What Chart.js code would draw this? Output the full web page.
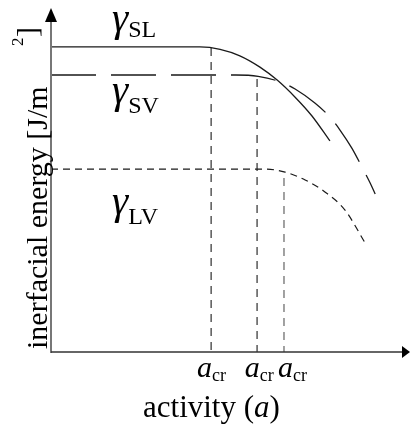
<!DOCTYPE html>
<html>
<head>
<meta charset="utf-8">
<script src="https://cdn.jsdelivr.net/npm/chart.js@4.4.0/dist/chart.umd.min.js"></script>
<style>
  body { margin: 0; background: #fff; }
  canvas { display: block; }
</style>
</head>
<body>
<canvas id="chart" width="410" height="432"></canvas>
<script>
// curves, arbitrary units 0..10 on both axes
const slX = [0, 4.15, 4.71, 5.26, 5.82, 6.30, 6.80, 7.27, 7.77];
const slY = [8.92, 8.92, 8.85, 8.66, 8.33, 7.95, 7.45, 6.90, 6.17];
const svX = [0, 5.15, 5.77, 6.41, 6.80, 7.35, 7.77, 8.05, 8.38, 8.69, 8.89, 9.03];
const svY = [8.10, 8.10, 8.06, 7.89, 7.69, 7.28, 6.87, 6.49, 5.96, 5.35, 4.94, 4.62];
const lvX = [0, 5.96, 6.52, 7.08, 7.63, 8.19, 8.75];
const lvY = [5.35, 5.35, 5.26, 5.03, 4.68, 4.15, 3.19];
// critical activities and where their guide lines stop
const acrX = [4.46, 5.74, 6.49];
const acrTop = [8.89, 7.98, 5.09];

const serif = '"Liberation Serif", "Times New Roman", serif';

function pts(xs, ys) {
  return xs.map((x, i) => ({ x: x, y: ys[i] }));
}

const datasets = [
  { data: pts(slX, slY), borderColor: '#1a1a1a', borderWidth: 1.3 },
  { data: pts(svX, svY), borderColor: '#1a1a1a', borderWidth: 1.3, borderDash: [45, 15] },
  { data: pts(lvX, lvY), borderColor: '#1a1a1a', borderWidth: 1.2, borderDash: [7, 5] }
];
acrX.forEach((x, i) => {
  datasets.push({
    data: [{ x: x, y: acrTop[i] }, { x: x, y: 0 }],
    borderColor: i == 2 ? '#555' : '#1a1a1a', borderWidth: 1.1, borderDash: [8, 6],
    cubicInterpolationMode: 'default', tension: 0
  });
});

// text that sits on the plot (data coords of the left edge / baseline)
const gammaLabels = [
  { sub: 'SL', x: 1.70, y: 9.39, dy: 6 },
  { sub: 'SV', x: 1.70, y: 7.28, dy: 10 },
  { sub: 'LV', x: 1.70, y: 4.04, dy: 10 }
];
const acrLabelX = [4.07, 5.40, 6.32];

const decor = {
  id: 'decor',
  afterDraw(chart) {
    const ctx = chart.ctx;
    const xs = chart.scales.x, ys = chart.scales.y;
    const x0 = xs.getPixelForValue(0), y0 = ys.getPixelForValue(0);
    const xEnd = xs.getPixelForValue(10), yEnd = ys.getPixelForValue(10);
    ctx.save();

    // y axis + arrow
    ctx.strokeStyle = '#777';
    ctx.lineWidth = 2;
    ctx.beginPath();
    ctx.moveTo(x0, y0 + 1);
    ctx.lineTo(x0, yEnd + 10);
    ctx.stroke();
    ctx.fillStyle = '#000';
    ctx.beginPath();
    ctx.moveTo(x0, yEnd - 2);
    ctx.lineTo(x0 - 6, yEnd + 12);
    ctx.lineTo(x0 + 6, yEnd + 12);
    ctx.closePath();
    ctx.fill();

    // x axis + arrow
    ctx.strokeStyle = '#333';
    ctx.lineWidth = 1.6;
    ctx.beginPath();
    ctx.moveTo(x0, y0);
    ctx.lineTo(xEnd - 5, y0);
    ctx.stroke();
    ctx.beginPath();
    ctx.moveTo(xEnd, y0);
    ctx.lineTo(xEnd - 8, y0 - 6);
    ctx.lineTo(xEnd - 8, y0 + 6);
    ctx.closePath();
    ctx.fill();

    ctx.fillStyle = '#000';
    ctx.textBaseline = 'alphabetic';
    ctx.textAlign = 'left';

    // gamma labels
    gammaLabels.forEach(l => {
      const px = xs.getPixelForValue(l.x), py = ys.getPixelForValue(l.y);
      ctx.font = 'italic 41px ' + serif;
      ctx.fillText('\u03B3', px, py);
      const w = ctx.measureText('\u03B3').width;
      ctx.font = '24px ' + serif;
      ctx.fillText(l.sub, px + w, py + l.dy);
    });

    // a_cr tick labels
    acrLabelX.forEach(v => {
      const px = xs.getPixelForValue(v);
      ctx.font = 'italic 30px ' + serif;
      ctx.fillText('a', px, y0 + 25);
      const w = ctx.measureText('a').width;
      ctx.font = '18px ' + serif;
      ctx.fillText('cr', px + w, y0 + 29);
    });

    // x title
    let tx = 143;
    const ty = 417;
    ctx.font = '31px ' + serif;
    ctx.fillText('activity (', tx, ty);
    tx += ctx.measureText('activity (').width;
    ctx.font = 'italic 31px ' + serif;
    ctx.fillText('a', tx, ty);
    tx += ctx.measureText('a').width;
    ctx.font = '31px ' + serif;
    ctx.fillText(')', tx, ty);

    // y title, rotated
    ctx.save();
    ctx.translate(47, 349);
    ctx.rotate(-Math.PI / 2);
    ctx.font = '30px ' + serif;
    ctx.fillText('inerfacial energy [J/m', 0, 0);
    ctx.restore();
    ctx.save();
    ctx.translate(23, 46);
    ctx.rotate(-Math.PI / 2);
    ctx.font = '17px ' + serif;
    ctx.fillText('2', 0, 0);
    ctx.restore();
    ctx.save();
    ctx.translate(37, 37);
    ctx.rotate(-Math.PI / 2);
    ctx.font = '30px ' + serif;
    ctx.fillText(']', 0, 0);
    ctx.restore();

    ctx.restore();
  }
};

new Chart(document.getElementById('chart'), {
  type: 'line',
  data: { datasets: datasets },
  options: {
    responsive: false,
    animation: false,
    events: [],
    layout: { padding: { left: 51, right: 0, top: 10, bottom: 80 } },
    elements: {
      point: { radius: 0 },
      line: { cubicInterpolationMode: 'monotone', fill: false }
    },
    plugins: { legend: { display: false }, tooltip: { enabled: false } },
    scales: {
      x: { type: 'linear', min: 0, max: 10, display: false },
      y: { type: 'linear', min: 0, max: 10, display: false }
    }
  },
  plugins: [decor]
});
</script>
</body>
</html>
